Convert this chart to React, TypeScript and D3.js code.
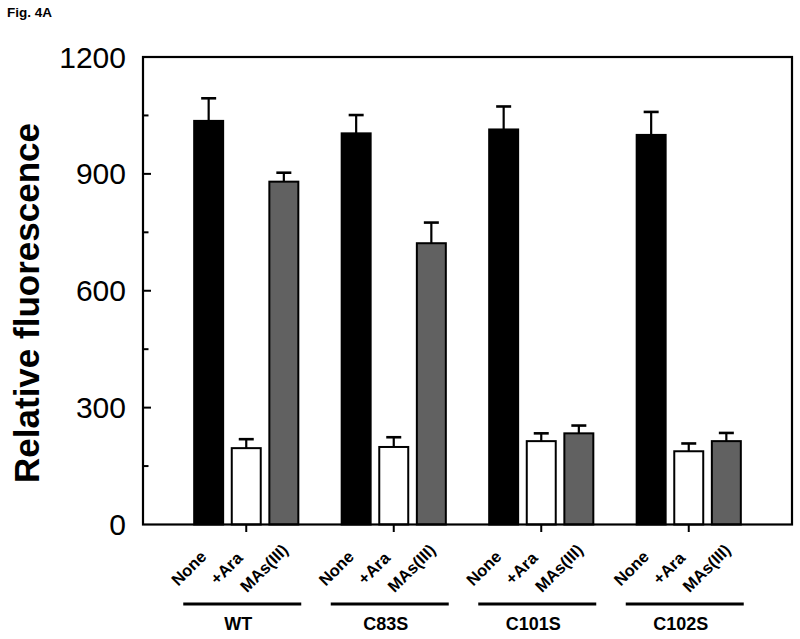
import React from "react";
import * as d3 from "d3";

const groups = ["WT", "C83S", "C101S", "C102S"];
const conditions = ["None", "+Ara", "MAs(III)"];
const meanNone = [1036, 1004, 1014, 1000];
const errNone = [58, 47, 59, 59];
const meanAra = [196, 199, 214, 188];
const errAra = [23, 25, 20, 20];
const meanMAs = [880, 722, 234, 214];
const errMAs = [23, 53, 20, 21];
const majorTicks = [0, 300, 600, 900, 1200];
const minorTicks = [150, 450, 750, 1050];
const fills = ["#000000", "#ffffff", "#616161"];

const W = 800;
const H = 639;
const left = 143;
const right = 792;
const top = 57;
const bottom = 524.5;
const FONT = "'Liberation Sans', Arial, Helvetica, sans-serif";

export default function App() {
  const x = d3.scaleBand<string>().domain(groups).range([left, right]).paddingInner(0).paddingOuter(0.2);
  const xi = d3
    .scaleBand<string>()
    .domain(conditions)
    .range([0, x.bandwidth()])
    .paddingInner(0.176)
    .paddingOuter(0.55);
  const y = d3.scaleLinear().domain([0, 1200]).range([bottom, top]);

  const series = [
    { means: meanNone, errs: errNone },
    { means: meanAra, errs: errAra },
    { means: meanMAs, errs: errMAs },
  ];

  const bars: React.ReactNode[] = [];
  const labels: React.ReactNode[] = [];
  groups.forEach((g, gi) => {
    conditions.forEach((c, ci) => {
      const v = series[ci].means[gi];
      const e = series[ci].errs[gi];
      const bx = (x(g) as number) + (xi(c) as number);
      const bw = xi.bandwidth();
      const cx = bx + bw / 2;
      bars.push(
        <g key={`${g}-${c}`}>
          <line x1={cx} x2={cx} y1={y(v)} y2={y(v + e)} stroke="#000" strokeWidth={2.2} />
          <line x1={cx - 7.5} x2={cx + 7.5} y1={y(v + e)} y2={y(v + e)} stroke="#000" strokeWidth={2.6} />
          <rect x={bx + 1} y={y(v)} width={bw - 2} height={y(0) - y(v)} fill={fills[ci]} stroke="#000" strokeWidth={2} />
        </g>
      );
      labels.push(
        <text
          key={`l-${g}-${c}`}
          transform={`translate(${cx - 20},${568}) rotate(-45)`}
          textAnchor="middle"
          dominantBaseline="central"
          fontFamily={FONT}
          fontWeight="bold"
          fontSize={16.5}
        >
          {c}
        </text>
      );
    });
  });

  return (
    <svg width={W} height={H} style={{ position: "absolute", left: 0, top: 0, background: "#fff" }}>
      <rect width={W} height={H} fill="#fff" />
      <text x={7} y={17} fontFamily={FONT} fontWeight="bold" fontSize={13.5}>
        Fig. 4A
      </text>
      {bars}
      <rect x={left} y={top} width={right - left} height={bottom - top} fill="none" stroke="#000" strokeWidth={2.2} />
      {majorTicks
        .filter((t) => t > 0 && t < 1200)
        .map((t) => (
          <line key={`mj${t}`} x1={left} x2={left + 8} y1={y(t)} y2={y(t)} stroke="#000" strokeWidth={2} />
        ))}
      {minorTicks.map((t) => (
        <line key={`mn${t}`} x1={left} x2={left + 5.5} y1={y(t)} y2={y(t)} stroke="#000" strokeWidth={2} />
      ))}
      {majorTicks.map((t) => (
        <text
          key={`tl${t}`}
          x={126}
          y={y(t)}
          textAnchor="end"
          dominantBaseline="central"
          fontFamily={FONT}
          fontSize={30}
        >
          {t}
        </text>
      ))}
      {groups.map((g) => {
        const c = (x(g) as number) + x.bandwidth() / 2;
        return (
          <g key={`g${g}`}>
            <line x1={c} x2={c} y1={bottom} y2={bottom + 7.5} stroke="#000" strokeWidth={2} />
            <line x1={c - 63} x2={c + 55} y1={604} y2={604} stroke="#000" strokeWidth={3} />
            <text x={c - 8} y={629.5} textAnchor="middle" fontFamily={FONT} fontWeight="bold" fontSize={18}>
              {g}
            </text>
          </g>
        );
      })}
      {labels}
      <text
        transform={`translate(39,303) rotate(-90)`}
        textAnchor="middle"
        fontFamily={FONT}
        fontWeight="bold"
        fontSize={35}
      >
        Relative fluorescence
      </text>
    </svg>
  );
}
